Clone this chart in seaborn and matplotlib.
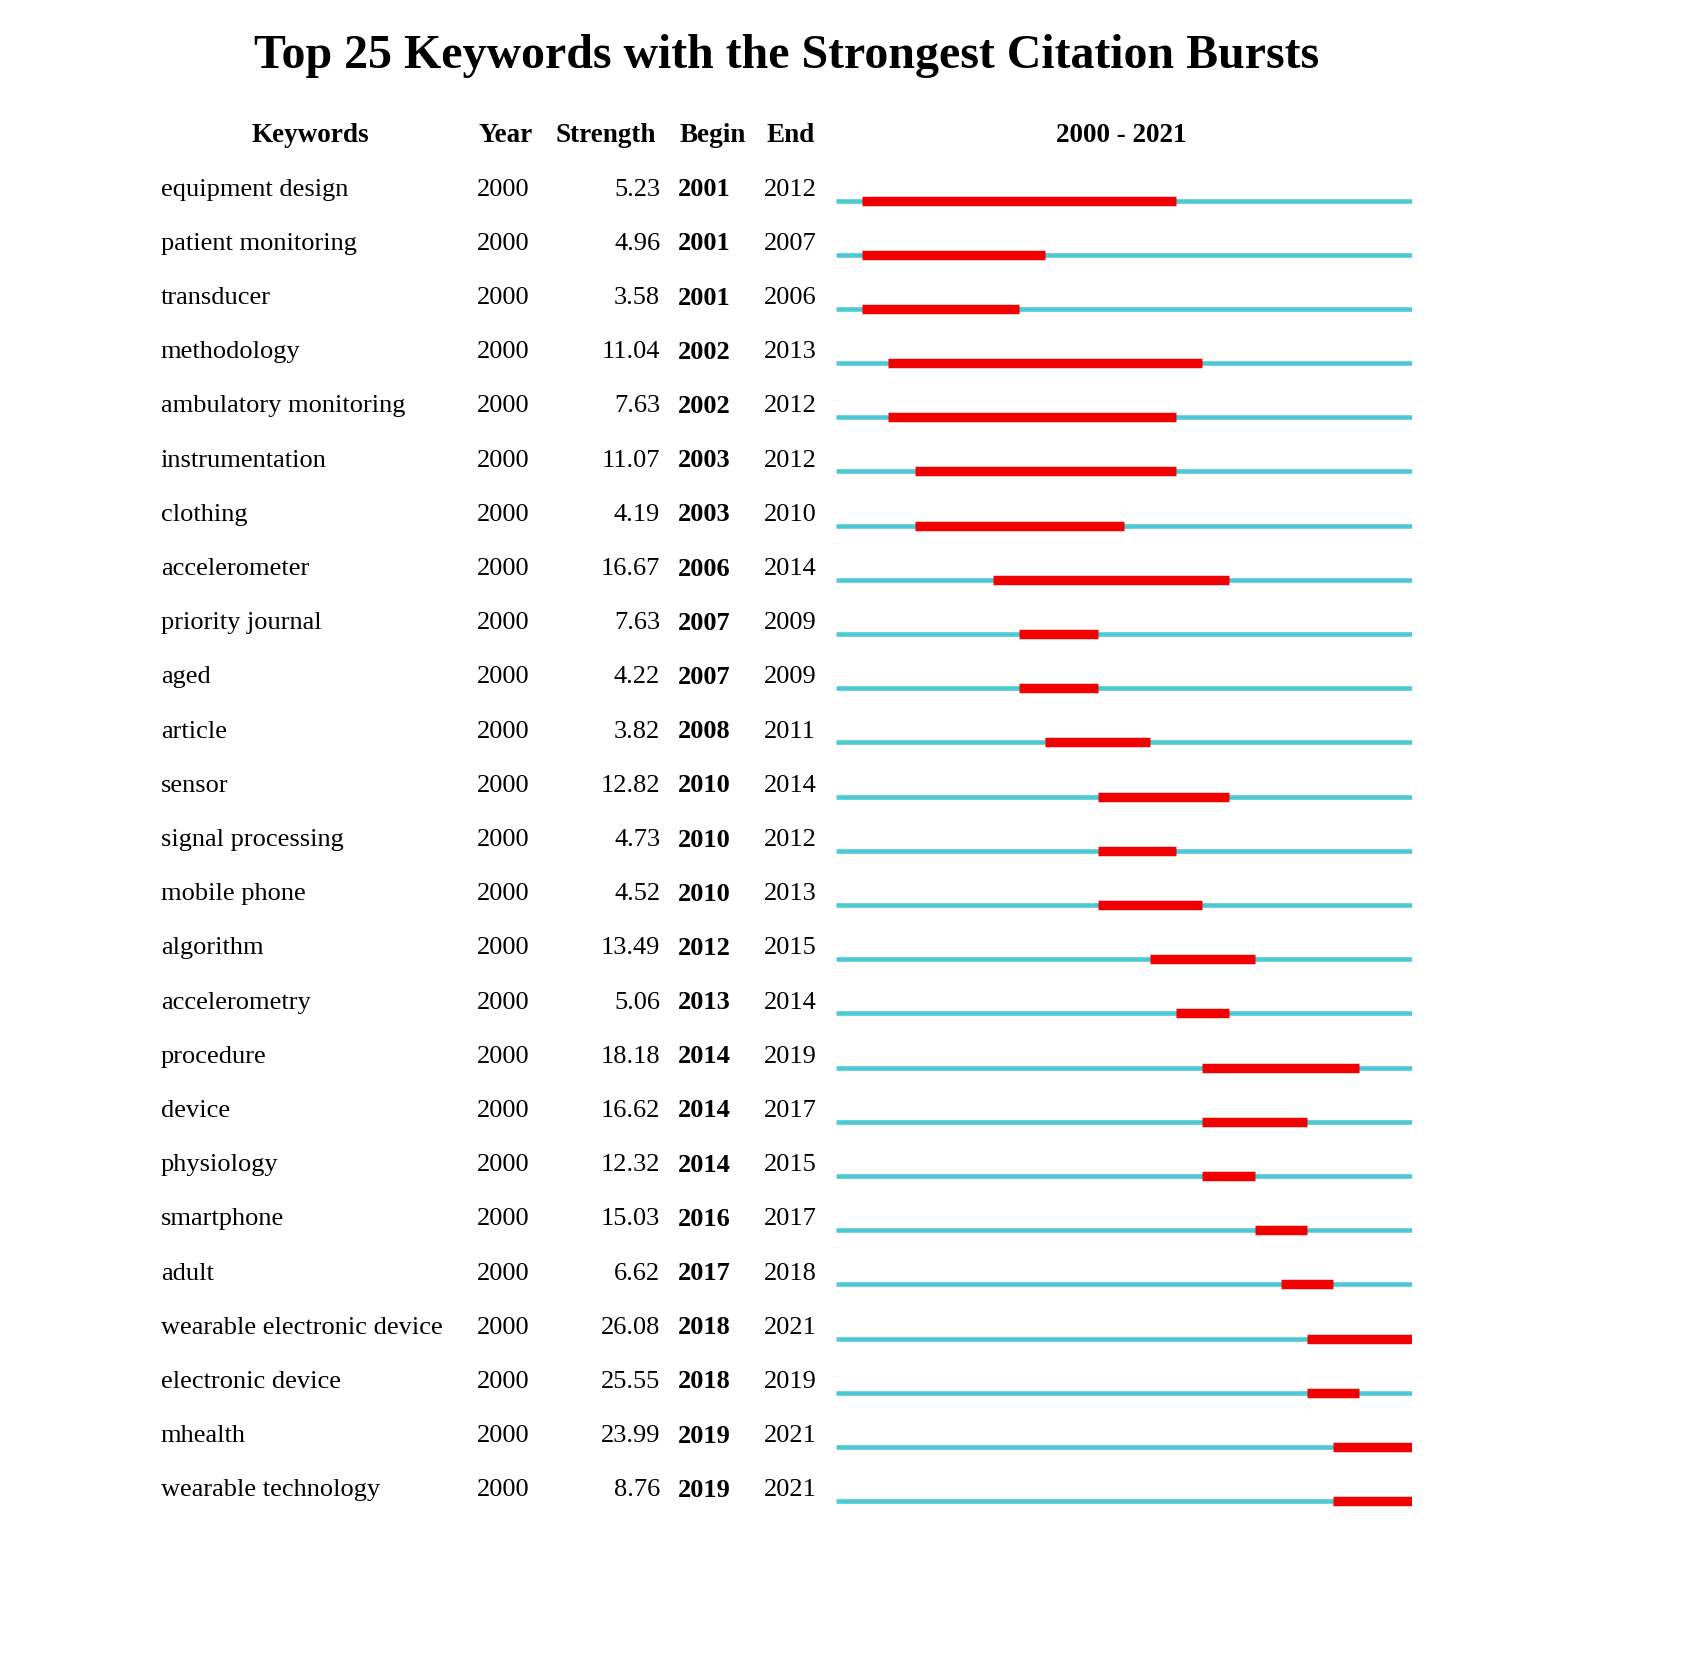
import matplotlib
matplotlib.use("Agg")
import matplotlib.pyplot as plt
import matplotlib.transforms as mtransforms
import seaborn as sns

keywords = ["equipment design", "patient monitoring", "transducer", "methodology",
            "ambulatory monitoring", "instrumentation", "clothing", "accelerometer",
            "priority journal", "aged", "article", "sensor", "signal processing",
            "mobile phone", "algorithm", "accelerometry", "procedure", "device",
            "physiology", "smartphone", "adult", "wearable electronic device",
            "electronic device", "mhealth", "wearable technology"]
years = [2000] * 25
strengths = [5.23, 4.96, 3.58, 11.04, 7.63, 11.07, 4.19, 16.67, 7.63, 4.22, 3.82,
             12.82, 4.73, 4.52, 13.49, 5.06, 18.18, 16.62, 12.32, 15.03, 6.62,
             26.08, 25.55, 23.99, 8.76]
begins = [2001, 2001, 2001, 2002, 2002, 2003, 2003, 2006, 2007, 2007, 2008, 2010,
          2010, 2010, 2012, 2013, 2014, 2014, 2014, 2016, 2017, 2018, 2018, 2019, 2019]
ends = [2012, 2007, 2006, 2013, 2012, 2012, 2010, 2014, 2009, 2009, 2011, 2014,
        2012, 2013, 2015, 2014, 2019, 2017, 2015, 2017, 2018, 2021, 2019, 2021, 2021]
start_year, end_year = 2000, 2021

sns.set_style("white")
plt.rcParams['font.family'] = ['Liberation Serif', 'DejaVu Serif']
plt.rcParams['text.color'] = 'black'

W, H = 1560.0, 1550.0
fig = plt.figure(figsize=(16.94, 16.80), dpi=100)
fig.patch.set_facecolor("white")
ax = fig.add_axes([770 / W, 1 - 1400 / H, 530 / W, 1250 / H])
ax.set_xlim(start_year, end_year + 1)
ax.set_ylim(len(keywords) - 0.5, -0.5)
ax.axis("off")

n = len(keywords)
rows = list(range(n))
ax.hlines([r + 0.2 for r in rows], start_year, end_year + 1, color="#4ec9d4", lw=3.3)
ax.hlines([r + 0.2 for r in rows], begins, [e + 1 for e in ends], color="#f00000", lw=6.8)

tr = mtransforms.blended_transform_factory(fig.transFigure, ax.transData)
fs = 19
for i in rows:
    y = i
    ax.text(148 / W, y, keywords[i], transform=tr, fontsize=fs, va="center", ha="left")
    ax.text(439 / W, y, str(years[i]), transform=tr, fontsize=fs, va="center", ha="left")
    ax.text(608 / W, y, f"{strengths[i]:.2f}", transform=tr, fontsize=fs, va="center", ha="right")
    ax.text(624 / W, y, str(begins[i]), transform=tr, fontsize=fs, va="center", ha="left", weight="bold")
    ax.text(703 / W, y, str(ends[i]), transform=tr, fontsize=fs, va="center", ha="left")

hy = 1 - 125 / H
hdr = dict(fontsize=19.5, weight="bold", va="center")
fig.text(286 / W, hy, "Keywords", ha="center", **hdr)
fig.text(466 / W, hy, "Year", ha="center", **hdr)
fig.text(558 / W, hy, "Strength", ha="center", **hdr)
fig.text(656 / W, hy, "Begin", ha="center", **hdr)
fig.text(728 / W, hy, "End", ha="center", **hdr)
fig.text(1033 / W, hy, f"{start_year} - {end_year}", ha="center", **hdr)
fig.text(724 / W, 1 - 52 / H, "Top 25 Keywords with the Strongest Citation Bursts",
         ha="center", va="center", fontsize=34.5, weight="bold")

fig.savefig("out.png", dpi=100, facecolor="white")
